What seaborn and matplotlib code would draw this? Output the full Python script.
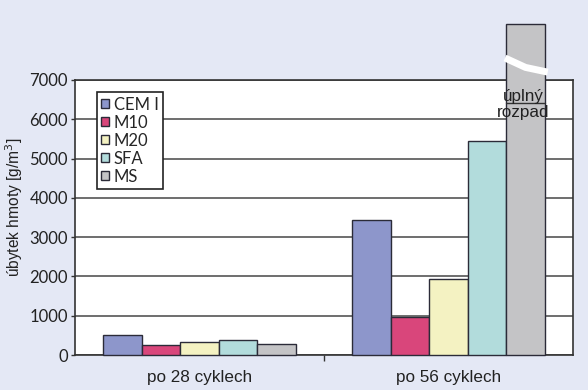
import matplotlib
matplotlib.use("Agg")
import matplotlib.pyplot as plt
import seaborn as sns
import pandas as pd
import numpy as np

categories = ["po 28 cyklech", "po 56 cyklech"]
mixes = ["CEM I", "M10", "M20", "SFA", "MS"]
values_28 = [520, 255, 330, 370, 270]
values_56 = [3430, 970, 1930, 5440, 8420]   # MS: úplný rozpad (drawn beyond the axis)
colors = ["#8d96cb", "#d9467b", "#f4f2c2", "#b2dcdc", "#c4c4c6"]
yticks = [0, 1000, 2000, 3000, 4000, 5000, 6000, 7000]
ylabel = "úbytek hmoty [g/m$^3$]"
note = "úplný\nrozpad"
note_level = 6380
break_levels = [7560, 7200]

rows = []
for cat, vals in zip(categories, [values_28, values_56]):
    for m, v in zip(mixes, vals):
        rows.append({"cyklus": cat, "smes": m, "ubytek": v})
df = pd.DataFrame(rows)

sns.set_theme(style="white")
plt.rcParams["font.family"] = ["Lato", "DejaVu Sans"]
bg = "#e4e8f5"
fig = plt.figure(figsize=(5.88, 3.90), dpi=100, facecolor=bg)
ax = fig.add_axes([0.1276, 0.0897, 0.8469, 0.7052])
ax.set_facecolor("white")

sns.barplot(data=df, x="cyklus", y="ubytek", hue="smes", order=categories,
            hue_order=mixes, palette=colors, width=0.773, saturation=1,
            edgecolor="#2b2b38", linewidth=1.0, gap=0, ax=ax, zorder=3)

for bar in ax.patches:
    bar.set_clip_on(False)

ax.set_ylim(0, 7000)
ax.set_xlim(-0.5, 1.5)
ax.set_yticks(yticks)
ax.set_yticklabels([str(t) for t in yticks], fontsize=12, color="#222222")
ax.yaxis.grid(True, color="#555555", linewidth=1.2)
ax.set_axisbelow(True)
ax.tick_params(axis="y", length=3, width=1, color="#333333", pad=2, left=True)
ax.tick_params(axis="x", length=0, pad=11)
ax.set_xticks([0.5], minor=True)
ax.tick_params(axis="x", which="minor", length=4, width=1, color="#333333", bottom=True)
for lab in ax.get_xticklabels():
    lab.set_fontfamily(["Liberation Sans", "DejaVu Sans"])
    lab.set_fontsize(12.3)
    lab.set_color("#222222")
ax.set_xlabel("")
ax.set_ylabel(ylabel, fontsize=11.2, family=["Liberation Sans", "DejaVu Sans"],
              color="#222222")
ax.yaxis.set_label_coords(-0.100, 0.538)
for sp in ax.spines.values():
    sp.set_visible(True)
    sp.set_color("#333333")
    sp.set_linewidth(1.2)

# MS bar of 56 cycles: break mark, inner line, note
ms_bar = ax.containers[mixes.index("MS")].patches[1]
x0 = ms_bar.get_x()
w = ms_bar.get_width()
ax.plot([x0 - 0.005, x0 + w * 0.5, x0 + w + 0.012],
        [break_levels[0], (break_levels[0] + break_levels[1]) / 2 - 60, break_levels[1]],
        color="white", linewidth=5, clip_on=False, zorder=5, solid_capstyle="butt")
ax.plot([x0, x0 + w], [note_level + 30, note_level + 30], color="#333333",
        linewidth=1.0, zorder=4)
ax.text(x0 + w / 2 - 0.008, note_level, note, ha="center", va="center",
        fontsize=12.3, family=["Liberation Sans", "DejaVu Sans"], color="#222222",
        linespacing=1.1, zorder=6)

handles, labels = ax.get_legend_handles_labels()
leg = ax.legend(handles, labels, loc="upper left", bbox_to_anchor=(0.044, 0.955),
                fontsize=12, frameon=True, fancybox=False, framealpha=1,
                edgecolor="#222222", handlelength=0.45, handleheight=0.45,
                handletextpad=0.3, labelspacing=0.12, borderpad=0.25,
                borderaxespad=0)
leg.get_frame().set_linewidth(1.2)
leg.set_zorder(7)

fig.savefig("out.png", dpi=100, facecolor=bg)
